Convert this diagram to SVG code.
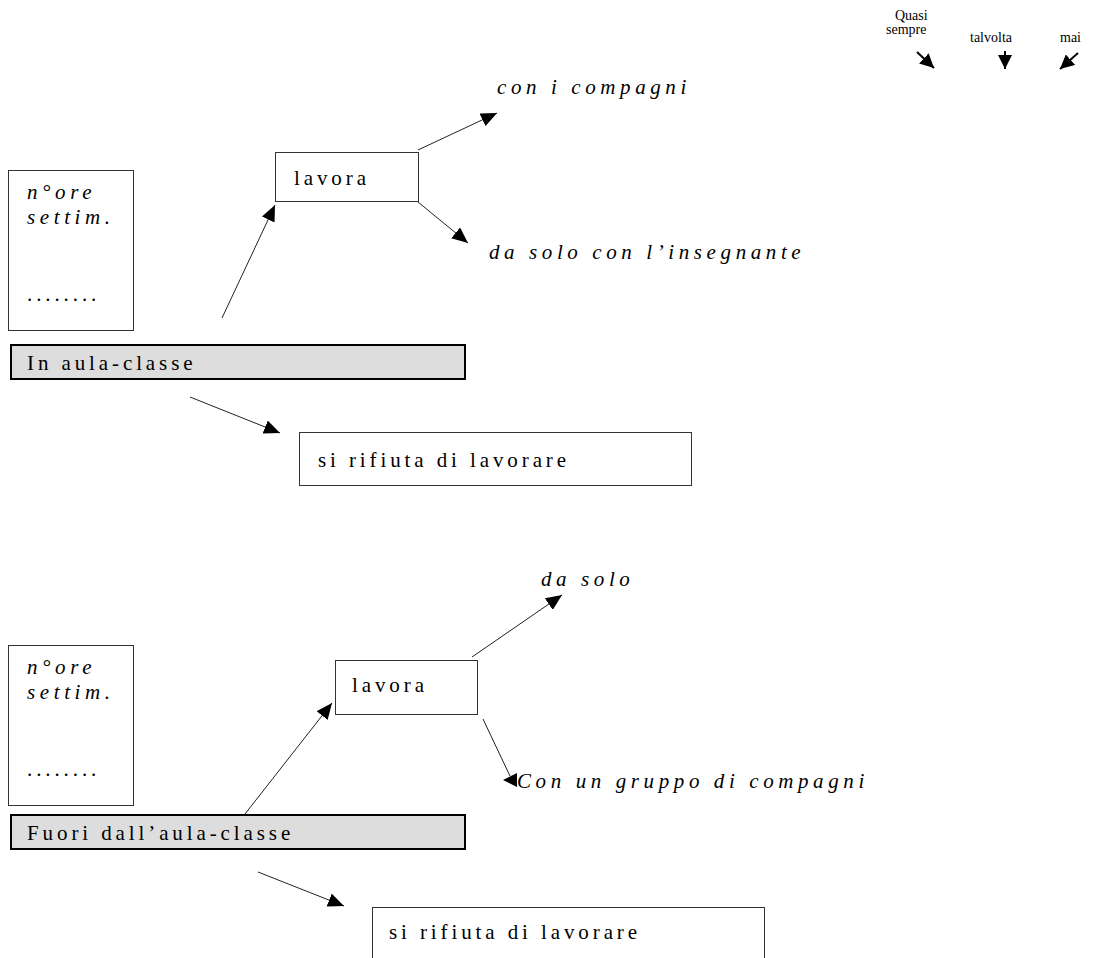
<svg xmlns="http://www.w3.org/2000/svg" width="1095" height="958" viewBox="0 0 1095 958">
<style>
.t{font-family:"Liberation Serif","Times New Roman",serif;font-size:21px;letter-spacing:3.9px;fill:#000}
.i{font-style:italic;letter-spacing:4.6px}
.lg{font-family:"Liberation Serif","Times New Roman",serif;font-size:14px;fill:#000}
.box{fill:#fff;stroke:#333;stroke-width:1}
.bar{fill:#ddd;stroke:#000;stroke-width:2}
.c{stroke:#222;stroke-width:1;fill:none;marker-end:url(#ah)}
.cl{stroke:#000;stroke-width:2;fill:none;marker-end:url(#ahs)}
</style>
<defs>
<marker id="ah" markerUnits="userSpaceOnUse" markerWidth="16" markerHeight="14" refX="16" refY="7" orient="auto">
<path d="M0,0 L16,7 L0,14 z" fill="#000"/>
</marker>
<marker id="ahs" markerUnits="userSpaceOnUse" markerWidth="14" markerHeight="14" refX="14" refY="7" orient="auto">
<path d="M0,0 L14,7 L0,14 z" fill="#000"/>
</marker>
</defs>
<rect width="1095" height="958" fill="#fff"/>

<g id="legend">
<text class="lg" x="895" y="20">Quasi</text>
<text class="lg" x="886" y="34">sempre</text>
<text class="lg" x="970" y="42">talvolta</text>
<text class="lg" x="1060" y="42">mai</text>
</g>

<g id="connectors">
<line class="cl" x1="917" y1="52" x2="934" y2="68"/>
<line class="cl" x1="1005" y1="51" x2="1005" y2="69"/>
<line class="cl" x1="1078" y1="53" x2="1060" y2="69"/>
<line class="c" x1="418" y1="150" x2="497" y2="113"/>
<line class="c" x1="418" y1="202" x2="468" y2="243"/>
<line class="c" x1="222" y1="318" x2="275" y2="205"/>
<line class="c" x1="190" y1="397" x2="280" y2="433"/>
<line class="c" x1="472" y1="657" x2="562" y2="595"/>
<line stroke="#222" stroke-width="1" x1="483" y1="719" x2="510" y2="776"/>
<polygon points="503,780 517,773 517,787" fill="#000"/>
<line class="c" x1="245" y1="814" x2="332" y2="703"/>
<line class="c" x1="258" y1="872" x2="344" y2="906"/>
</g>

<g id="ore1">
<rect class="box" x="8.5" y="170.5" width="125" height="160"/>
<text class="t i" x="27" y="199">n°ore</text>
<text class="t i" x="27" y="224">settim.</text>
<text class="t" x="27" y="301" letter-spacing="2">........</text>
</g>
<g id="aula">
<rect class="bar" x="11" y="345" width="454" height="34"/>
<text class="t" x="27" y="370">In aula-classe</text>
</g>
<g id="lavora1">
<rect class="box" x="275.5" y="152.5" width="143" height="49"/>
<text class="t" x="294" y="185">lavora</text>
</g>
<g id="compagni1">
<text class="t i" x="497" y="94">con i compagni</text>
</g>
<g id="insegnante">
<text class="t i" x="489" y="259">da solo con l’insegnante</text>
</g>
<g id="rifiuta1">
<rect class="box" x="299.5" y="432.5" width="392" height="53"/>
<text class="t" x="318" y="467">si rifiuta di lavorare</text>
</g>

<g id="ore2">
<rect class="box" x="8.5" y="645.5" width="125" height="160"/>
<text class="t i" x="27" y="674">n°ore</text>
<text class="t i" x="27" y="699">settim.</text>
<text class="t" x="27" y="776" letter-spacing="2">........</text>
</g>
<g id="fuori">
<rect class="bar" x="11" y="815" width="454" height="34"/>
<text class="t" x="27" y="840">Fuori dall’aula-classe</text>
</g>
<g id="lavora2">
<rect class="box" x="335.5" y="660.5" width="142" height="54"/>
<text class="t" x="352" y="692">lavora</text>
</g>
<g id="dasolo">
<text class="t i" x="541" y="586">da solo</text>
</g>
<g id="gruppo">
<text class="t i" x="517" y="788">Con un gruppo di compagni</text>
</g>
<g id="rifiuta2">
<rect class="box" x="372.5" y="907.5" width="392" height="60"/>
<text class="t" x="389" y="939">si rifiuta di lavorare</text>
</g>
</svg>
